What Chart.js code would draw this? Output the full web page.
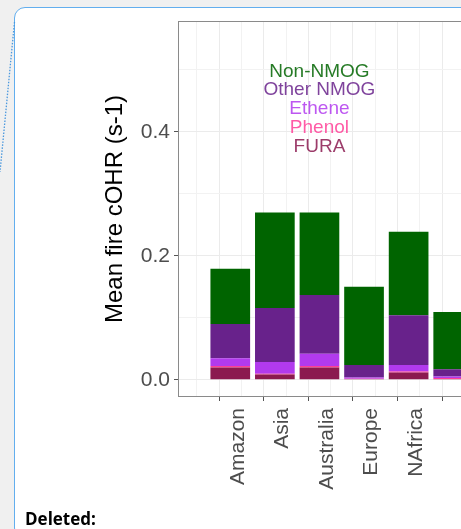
<!DOCTYPE html>
<html>
<head>
<meta charset="utf-8">
<script src="https://cdn.jsdelivr.net/npm/chart.js@4"></script>
<style>
  html, body { margin: 0; padding: 0; width: 461px; height: 529px; overflow: hidden; background: #f0f0f0; }
  .card { position: absolute; left: 14px; top: 7px; width: 520px; height: 530px; background: #fff;
          border: 1.5px solid #62aeee; border-radius: 11px; }
  .wrap { position: absolute; left: 0; top: 0; width: 492px; height: 529px; }
  .deleted { position: absolute; left: 25px; top: 507px; font: bold 17px "Open Sans", "Noto Sans", sans-serif; color: #000; }
  svg { position: absolute; left: 0; top: 0; }
</style>
</head>
<body>
<div class="card"></div>
<svg width="30" height="200"><line x1="14.5" y1="22" x2="0" y2="172" stroke="#4a98de" stroke-width="1.3" stroke-dasharray="1.5 1.5"/></svg>
<div class="wrap"><canvas id="chart" width="492" height="529"></canvas></div>
<div class="deleted">Deleted:</div>
<script>
const categories = ["Amazon", "Asia", "Australia", "Europe", "NAfrica", "SAfrica"];
const fura      = [0.0200, 0.0085, 0.0200, 0.0015, 0.0118, 0.0015];
const phenol    = [0.0025, 0.0015, 0.0025, 0.0005, 0.0016, 0.0015];
const ethene    = [0.0125, 0.0190, 0.0195, 0.0020, 0.0106, 0.0023];
const otherNmog = [0.0550, 0.0870, 0.0950, 0.0200, 0.0800, 0.0120];
const nonNmog   = [0.0890, 0.1540, 0.1330, 0.1260, 0.1350, 0.0920];

const yTicks = [0, 0.1, 0.2, 0.3, 0.4, 0.5];
const yLabels = { 0: "0.0", 0.2: "0.2", 0.4: "0.4" };

const seriesNames = ["FURA", "Phenol", "Ethene", "Other NMOG", "Non-NMOG"];
const seriesColors = ["#8b1a50", "#ff3e96", "#b23aee", "#68228b", "#006400"];
const seriesValues = [fura, phenol, ethene, otherNmog, nonNmog];

function toPoints(arr) {
  return arr.map((v, i) => ({ x: i + 1, y: v }));
}

// text legend drawn inside the panel, like the annotate() labels
const textLegend = {
  id: "textLegend",
  afterDatasetsDraw(chart) {
    const ctx = chart.ctx;
    const xs = chart.scales.x, ys = chart.scales.y;
    const cx = xs.getPixelForValue(3);
    ctx.save();
    ctx.font = "19px 'Liberation Sans', Arial, sans-serif";
    ctx.textAlign = "center";
    ctx.textBaseline = "middle";
    ctx.globalAlpha = 0.85;
    for (let k = 0; k < seriesNames.length; k++) {
      const idx = seriesNames.length - 1 - k;
      ctx.fillStyle = seriesColors[idx];
      ctx.fillText(seriesNames[idx], cx, ys.getPixelForValue(0.4975 - k * 0.0305));
    }
    ctx.restore();
  }
};

const panelBorder = {
  id: "panelBorder",
  afterDraw(chart) {
    const a = chart.chartArea, ctx = chart.ctx;
    ctx.save();
    ctx.strokeStyle = "#8a8a8a";
    ctx.lineWidth = 1;
    ctx.strokeRect(Math.round(a.left) - 0.5, Math.round(a.top) - 0.5, Math.round(a.right - a.left) + 1, Math.round(a.bottom - a.top) + 1);
    ctx.restore();
  }
};

const isMajorX = c => !c.tick || Math.abs(c.tick.value - Math.round(c.tick.value)) < 1e-6;
const isMajorY = c => !c.tick || !!yLabels[Math.round(c.tick.value * 10) / 10];

new Chart(document.getElementById("chart"), {
  type: "bar",
  data: {
    datasets: seriesNames.map((name, i) => ({
      label: name,
      data: toPoints(seriesValues[i]),
      backgroundColor: seriesColors[i],
      borderWidth: 0,
      categoryPercentage: 1,
      barPercentage: 1.78
    }))
  },
  options: {
    responsive: false,
    animation: false,
    events: [],
    layout: { padding: { top: 22, right: 0, bottom: 0, left: 0 } },
    plugins: { legend: { display: false }, tooltip: { enabled: false } },
    scales: {
      x: {
        type: "linear",
        stacked: true,
        min: 0.12,
        max: 6.6,
        afterBuildTicks: s => {
          const t = [];
          for (let i = 0; i <= categories.length * 2; i++) t.push({ value: 0.5 + i * 0.5 });
          s.ticks = t;
        },
        afterFit: s => { s.height = 133; s.paddingLeft = 0; s.paddingRight = 0; },
        border: { display: false },
        grid: {
          color: c => isMajorX(c) ? "#ebebeb" : "#f2f2f2",
          lineWidth: 1,
          tickLength: 5,
          tickColor: c => isMajorX(c) ? "#555" : "rgba(0,0,0,0)"
        },
        ticks: {
          autoSkip: false,
          minRotation: 90,
          maxRotation: 90,
          padding: 7,
          labelOffset: 7.5,
          // the last label falls past the cropped right edge in the original
          color: c => (c.tick && c.tick.value > 5.5) ? "rgba(0,0,0,0)" : "#4d4d4d",
          font: { family: "'Liberation Sans', Arial, sans-serif", size: 21 },
          callback: v => Math.abs(v - Math.round(v)) < 1e-6 ? (categories[Math.round(v) - 1] || "") : ""
        }
      },
      y: {
        stacked: true,
        min: -0.026,
        max: 0.577,
        afterBuildTicks: s => { s.ticks = yTicks.map(v => ({ value: v })); },
        afterFit: s => { s.width = 179; },
        border: { display: false },
        grid: {
          color: c => isMajorY(c) ? "#ebebeb" : "#f2f2f2",
          lineWidth: 1,
          tickLength: 5,
          tickColor: c => isMajorY(c) ? "#555" : "rgba(0,0,0,0)"
        },
        ticks: {
          padding: 4,
          color: "#4d4d4d",
          font: { family: "'Liberation Sans', Arial, sans-serif", size: 21 },
          callback: v => yLabels[Math.round(v * 10) / 10] || ""
        },
        title: {
          display: true,
          text: "Mean fire cOHR (s-1)",
          color: "#000",
          padding: { top: 101, bottom: 0 },
          font: { family: "'Liberation Sans', Arial, sans-serif", size: 24 }
        }
      }
    }
  },
  plugins: [textLegend, panelBorder]
});
</script>
</body>
</html>
